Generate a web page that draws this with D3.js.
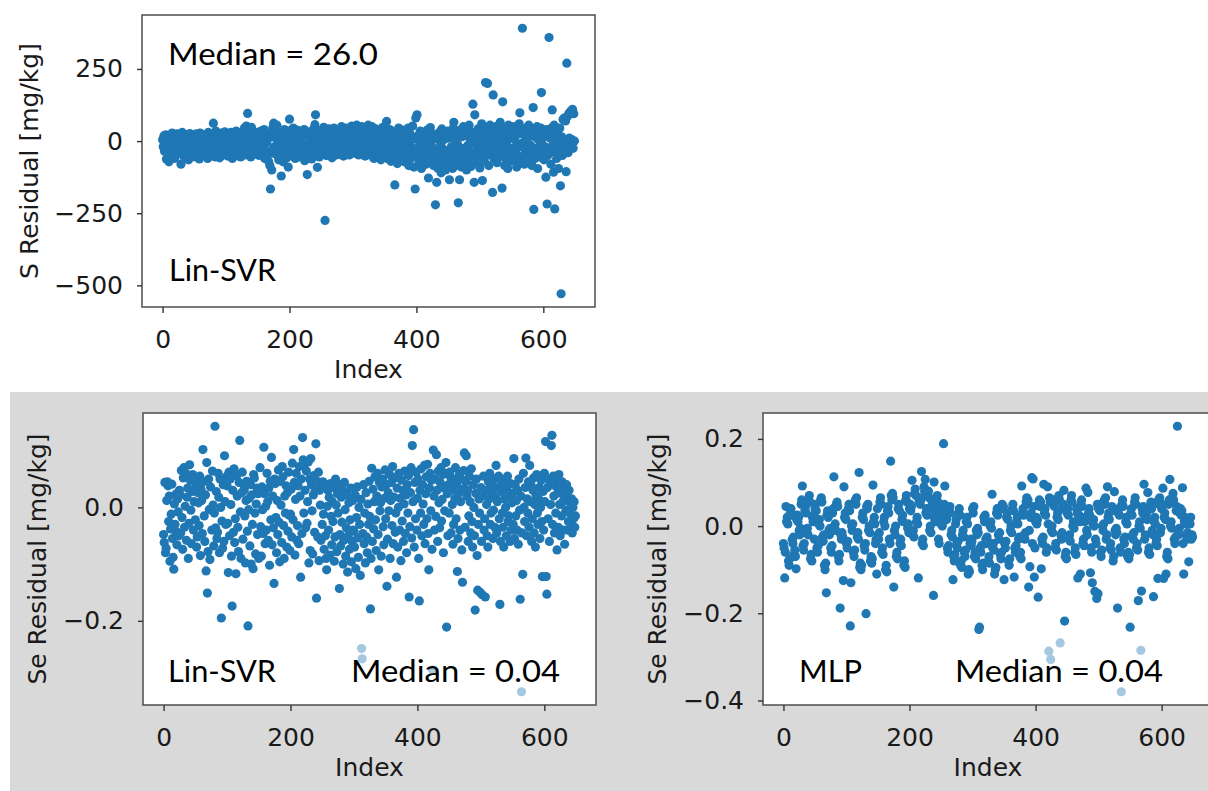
<!DOCTYPE html>
<html>

<head>
  <meta charset="utf-8" />
  <title>Residuals</title>
  <script src="https://d3js.org/d3.v7.min.js"></script>
  <style>
    body { margin: 0; background: #fff; }
  </style>
</head>

<body>
  <script>
    // S residual, Lin-SVR (mg/kg), one value per sample index
    const sResidualLinSVR = [
      5,-20,18,-35,-8,22,-62,-15,10,-45,-72,-28,12,-5,-50,28,-18,-38,8,-60,15,-25,-10,25,-42,
      -12,20,-35,5,-80,-22,30,-48,10,-15,-58,22,-30,2,-40,18,-65,-8,26,-20,-52,12,-3,-33,20,
      -25,8,-55,25,-12,-38,15,-5,-62,28,-20,-42,5,-30,18,-50,-8,22,-35,10,-18,-60,30,-28,0,
      -15,25,-45,8,-30,62,-22,12,-55,35,-10,-40,20,-25,3,-58,15,-35,28,-12,-48,10,-20,32,-5,
      -38,18,-8,-52,25,-28,5,-45,30,-15,-60,12,-32,22,-5,-50,35,-20,8,-42,15,-25,28,-55,-2,
      20,-35,10,-18,45,-48,5,52,-25,96,-10,38,-40,15,-55,48,-20,8,-30,25,-45,12,-8,30,-38,
      -15,22,-50,5,-28,35,-8,-42,18,-22,40,-60,10,-35,-5,28,-48,-70,12,-85,-166,20,-100,-30,48,
      62,-20,15,-45,8,55,-35,25,-65,-10,30,-50,-121,18,-28,-72,5,40,-40,22,-15,-58,12,-90,35,
      76,-25,20,-48,10,-12,45,-35,28,-60,5,-20,38,-42,15,-8,-55,30,-30,12,-45,22,-15,40,-68,
      -20,18,-40,-116,25,-10,-52,32,-28,8,-62,15,-35,42,-5,57,91,-45,20,-91,-18,35,-55,10,-30,
      25,-40,12,-22,48,-8,-275,30,-50,18,-30,5,42,-45,22,-15,38,-58,8,-25,45,-35,15,-5,-48,
      38,-20,10,-45,28,-5,-35,50,-15,20,-52,35,0,-28,45,-40,12,-10,30,-48,22,-25,8,52,-30,
      15,-42,48,-10,28,-30,55,-18,5,-48,38,-25,20,-8,50,-38,12,-15,42,-52,25,-5,32,-28,55,
      -20,35,-48,10,-30,50,-12,22,-60,5,-38,42,-22,15,-55,30,-8,-45,25,-65,12,-28,48,-15,-40,
      20,-50,5,68,-35,28,-62,-10,40,-25,-70,15,-45,32,-18,-55,-152,8,-40,25,-78,-12,45,-30,10,
      -58,22,-20,38,-45,5,-72,30,-15,-50,18,-35,45,-85,-8,25,-60,12,-40,52,-25,-90,8,-166,80,
      -30,91,-55,20,-75,-5,35,-42,-95,15,-20,-65,28,-48,5,-80,-12,38,-58,-128,10,-35,47,-70,-18,
      25,-50,-85,8,-30,-221,-60,-143,15,-95,-40,30,-70,-10,-110,42,-25,-88,5,-55,20,-100,-35,-65,35,
      -45,10,-134,-75,28,-20,-60,-95,45,65,-30,5,-85,-50,25,-12,-214,-70,-134,38,-40,-90,15,-58,50,
      -25,-80,20,-50,-100,35,-15,-65,55,-38,5,-88,30,-55,128,-10,-143,91,-45,15,-75,-30,42,-60,-5,
      -93,25,-40,60,-137,-15,45,-70,10,203,-50,30,200,-25,-85,15,55,-45,-5,35,-178,160,-60,20,-30,
      50,-20,-75,10,40,-55,-10,65,-40,25,-163,136,-30,5,-85,45,-60,20,-15,-95,55,-35,10,-70,30,
      -45,15,-25,50,-65,5,-35,40,-90,-10,25,-55,60,98,-20,-75,35,391,-5,-50,-80,20,-40,45,-60,
      10,-30,55,-70,25,-15,40,-85,-45,116,-237,15,-60,30,-25,50,-95,5,-35,20,-55,45,168,-10,-40,
      35,-65,15,-20,-125,40,-218,-50,25,359,-30,10,-80,45,108,-15,-108,55,-235,-40,20,-60,30,-5,-95,
      -30,45,-155,-529,15,-50,75,-20,80,-5,70,-106,270,85,-40,95,10,100,-15,105,5,110,-25,95,0
    ];

    // Se residual, Lin-SVR (mg/kg)
    const seResidualLinSVR = [
      -0.048,-0.062,0.044,-0.080,-0.072,0.012,0.045,0.038,-0.025,0.020,-0.095,-0.038,-0.012,0.041,-0.055,-0.088,-0.109,0.006,-0.030,-0.042,0.024,-0.066,0.015,-0.008,-0.050,
      0.030,0.022,-0.045,0.065,-0.018,-0.074,0.052,0.070,-0.035,0.002,0.060,-0.058,0.018,0.034,-0.090,-0.028,0.075,0.048,-0.005,-0.064,0.028,0.058,-0.040,0.010,0.046,
      -0.022,0.040,-0.070,-0.052,0.026,0.008,-0.032,0.055,-0.085,0.032,0.012,-0.046,0.102,0.045,-0.015,-0.060,0.022,-0.112,0.079,-0.151,-0.078,0.050,-0.004,-0.092,0.036,
      -0.002,-0.040,0.064,0.004,-0.068,-0.010,0.143,-0.036,0.028,-0.055,-0.044,0.060,0.018,-0.080,0.050,0.000,-0.195,-0.024,-0.072,0.040,-0.060,0.091,0.010,-0.030,0.054,
      0.038,-0.028,-0.115,0.062,-0.050,0.050,0.005,-0.086,-0.174,0.030,-0.044,0.068,-0.062,-0.020,-0.117,0.056,0.020,-0.035,-0.078,0.044,0.118,-0.008,-0.090,0.026,0.062,
      -0.056,0.040,0.030,-0.015,-0.098,0.012,0.046,-0.042,-0.209,-0.004,0.016,-0.068,0.040,-0.100,0.022,-0.030,-0.108,0.058,0.052,-0.010,-0.082,0.006,0.034,-0.048,0.024,
      -0.090,0.030,0.070,-0.034,-0.086,0.036,-0.004,-0.046,0.106,0.024,-0.064,0.002,-0.040,0.060,0.010,-0.058,0.034,-0.102,0.046,-0.022,0.088,-0.066,0.020,-0.036,-0.134,
      0.050,0.042,-0.018,-0.080,0.012,-0.048,0.066,-0.026,-0.096,0.046,0.004,-0.062,0.072,0.054,-0.032,-0.090,0.020,-0.010,0.038,-0.070,0.026,-0.042,0.062,-0.014,-0.076,
      -0.012,0.032,-0.052,0.078,-0.022,0.102,0.044,-0.084,0.014,0.060,-0.058,-0.032,0.038,-0.064,0.072,0.020,-0.123,0.050,-0.046,0.123,0.084,-0.010,0.076,0.030,-0.036,
      0.064,-0.028,0.010,0.080,-0.098,0.050,-0.076,0.086,0.040,-0.006,-0.082,0.022,0.056,-0.044,0.030,0.112,-0.160,0.046,-0.052,0.062,-0.094,0.030,0.004,-0.058,0.040,
      -0.030,0.045,-0.012,-0.074,0.038,-0.050,-0.090,-0.110,0.002,0.030,-0.040,0.018,-0.084,0.042,-0.016,-0.066,0.010,-0.025,0.035,-0.095,-0.052,0.050,0.004,-0.078,0.024,
      -0.010,0.040,-0.143,-0.048,-0.068,0.018,-0.026,0.030,-0.100,-0.058,0.044,-0.004,-0.086,-0.036,0.022,-0.114,-0.050,0.008,-0.074,-0.022,0.034,-0.096,-0.060,0.012,-0.040,
      -0.042,-0.070,0.022,-0.108,-0.018,0.036,-0.054,-0.088,0.000,-0.030,-0.120,0.014,-0.249,-0.267,-0.046,0.040,-0.064,-0.010,-0.098,0.026,-0.052,-0.080,0.006,-0.030,0.046,
      -0.016,-0.179,-0.090,0.069,-0.060,0.032,-0.038,0.010,0.054,-0.022,-0.076,0.020,0.060,-0.048,-0.110,0.044,-0.006,0.008,-0.086,0.036,0.050,-0.034,-0.066,0.016,0.066,
      -0.020,0.040,-0.139,-0.056,0.026,-0.006,0.058,-0.090,0.012,0.044,-0.032,0.072,-0.064,0.018,0.052,-0.044,-0.010,-0.123,0.034,-0.070,0.000,0.060,-0.040,0.016,-0.094,
      0.048,-0.024,0.030,-0.060,0.006,0.064,-0.046,0.022,-0.080,0.040,-0.010,0.056,-0.158,-0.034,0.026,0.070,-0.054,0.109,0.010,0.137,-0.070,0.044,-0.020,0.062,-0.040,
      0.016,0.050,-0.090,-0.165,0.030,-0.010,0.068,-0.050,0.040,0.006,-0.030,0.074,-0.064,0.024,0.054,-0.020,0.076,-0.046,-0.110,0.034,0.060,-0.006,0.048,-0.074,-0.287,
      0.101,0.020,-0.040,0.050,-0.016,0.093,0.030,-0.060,0.064,0.008,-0.036,0.044,0.070,-0.024,0.014,0.058,-0.080,0.034,-0.006,0.060,0.079,-0.211,0.024,-0.050,0.040,
      -0.010,0.062,0.054,-0.045,0.030,0.005,-0.065,-0.030,0.048,0.015,0.070,-0.020,0.040,-0.113,-0.055,0.025,0.058,-0.040,0.010,0.050,-0.075,-0.132,0.032,0.065,0.096,
      -0.035,0.045,0.091,0.020,0.030,-0.060,-0.015,0.055,0.010,-0.045,0.068,-0.025,-0.070,0.040,0.000,-0.050,-0.181,0.025,0.050,-0.085,-0.146,-0.030,0.015,-0.010,-0.150,
      0.035,-0.060,-0.154,0.020,0.055,-0.040,-0.020,-0.158,0.030,0.005,-0.050,-0.070,0.045,0.015,0.060,-0.030,-0.010,0.040,0.025,-0.055,-0.005,0.050,-0.035,0.018,0.074,
      -0.045,0.010,0.035,0.055,-0.020,-0.171,-0.060,0.028,0.045,-0.010,-0.035,-0.070,0.015,0.040,0.000,-0.050,0.030,0.055,-0.025,-0.015,0.020,-0.060,0.042,-0.040,0.008,
      0.025,-0.030,0.086,-0.055,0.040,-0.015,0.012,-0.040,0.030,-0.065,0.050,-0.005,-0.162,0.020,-0.325,-0.045,-0.118,0.060,0.000,-0.025,0.035,0.087,-0.050,0.015,-0.010,
      0.045,-0.035,0.074,0.010,0.040,-0.060,-0.020,0.030,0.052,-0.045,0.005,-0.070,0.020,0.058,-0.010,-0.030,0.015,0.035,-0.055,0.000,0.048,-0.025,-0.122,0.028,-0.040,
      0.060,0.010,0.116,-0.122,-0.153,0.035,-0.020,0.050,-0.060,0.042,0.005,0.109,0.127,-0.030,0.055,0.020,-0.045,0.038,-0.010,0.048,-0.075,0.025,-0.035,0.058,0.005,
      -0.050,0.030,-0.015,0.045,0.010,-0.040,0.022,-0.065,0.035,-0.005,0.040,-0.040,0.018,-0.025,0.030,-0.010,0.008,-0.030,0.015,-0.045,0.000,-0.020,0.010,-0.035,-0.015
    ];

    // Se residual, MLP (mg/kg)
    const seResidualMLP = [
      -0.040,-0.050,-0.119,-0.060,0.045,0.010,0.020,0.005,-0.080,-0.090,-0.075,0.030,0.040,0.025,-0.030,-0.040,-0.025,-0.065,-0.055,-0.070,-0.098,0.015,0.025,0.010,0.020,
      -0.010,-0.020,-0.005,0.050,0.060,0.092,-0.045,-0.055,-0.040,0.035,0.045,0.030,-0.015,-0.005,-0.020,0.060,0.070,0.055,-0.075,-0.065,-0.080,0.020,0.010,0.025,-0.030,
      0.040,0.050,0.035,-0.050,-0.060,-0.045,0.005,0.015,0.000,0.060,0.065,0.055,-0.025,-0.035,-0.020,-0.090,-0.100,-0.085,-0.153,0.025,0.035,0.020,-0.010,-0.020,-0.005,
      -0.050,-0.060,-0.045,0.030,0.040,0.113,-0.005,0.005,-0.010,0.050,0.055,0.045,-0.070,-0.080,-0.065,-0.188,-0.020,-0.030,-0.015,-0.025,-0.125,0.090,0.020,0.030,0.015,
      -0.040,-0.050,-0.035,0.040,0.050,0.035,-0.229,-0.130,0.000,-0.010,0.005,-0.060,-0.070,-0.055,0.060,0.050,0.065,-0.025,-0.015,-0.030,0.123,-0.095,-0.085,-0.100,-0.090,
      0.020,0.030,0.015,-0.045,-0.055,-0.040,-0.201,0.045,0.040,0.050,-0.010,0.000,-0.015,-0.080,-0.070,-0.085,-0.075,0.094,0.010,0.020,0.005,-0.040,-0.030,-0.110,0.040,
      -0.020,-0.030,-0.015,0.055,0.065,0.050,-0.060,-0.050,-0.065,0.010,0.020,0.000,-0.100,-0.090,-0.105,0.035,0.045,0.030,-0.030,-0.040,0.149,0.070,0.060,0.075,0.065,
      -0.140,-0.010,-0.020,0.000,-0.070,-0.060,-0.075,0.040,0.050,0.035,-0.040,-0.030,-0.045,0.015,0.025,0.010,-0.090,-0.080,-0.095,0.060,0.070,0.055,-0.005,0.005,-0.015,
      0.040,0.050,0.035,0.045,0.105,-0.020,-0.010,-0.025,0.075,0.085,0.070,0.010,0.020,0.005,-0.119,0.055,0.065,0.050,0.060,0.125,-0.040,-0.030,-0.045,0.090,0.080,
      0.107,0.030,0.040,0.025,0.070,0.080,0.065,-0.010,0.000,-0.015,0.045,0.055,0.040,-0.159,0.101,0.015,0.025,0.010,0.060,0.070,0.055,-0.030,-0.040,0.030,0.040,
      0.005,0.015,0.000,0.010,0.189,0.050,0.092,0.020,0.030,0.015,-0.050,-0.060,-0.045,0.035,0.045,0.030,-0.020,-0.010,-0.025,-0.123,-0.070,-0.080,-0.065,0.005,0.015,
      -0.040,-0.050,-0.035,0.030,0.040,0.025,-0.090,-0.080,-0.095,-0.020,-0.010,-0.025,-0.060,-0.070,-0.055,0.010,0.020,0.005,-0.110,-0.100,-0.105,-0.040,-0.030,-0.045,-0.035,
      0.040,0.030,0.045,-0.070,-0.060,-0.075,-0.010,-0.020,-0.005,-0.015,-0.237,-0.232,-0.050,-0.060,-0.045,-0.090,-0.100,-0.085,0.020,0.010,0.025,-0.030,-0.040,-0.025,-0.035,
      -0.080,-0.070,-0.085,0.000,0.010,-0.005,0.073,-0.050,-0.040,-0.055,-0.110,-0.100,-0.095,0.030,0.040,0.025,-0.020,-0.030,-0.015,-0.065,-0.075,-0.060,0.050,0.040,0.045,
      -0.123,-0.040,-0.050,-0.035,0.020,0.030,0.015,-0.080,-0.090,-0.075,-0.010,0.000,-0.015,0.040,0.050,0.035,-0.117,-0.050,-0.060,-0.045,0.010,0.020,0.005,-0.030,-0.025,
      -0.070,-0.060,-0.075,0.092,0.030,0.040,0.025,-0.020,-0.030,-0.015,0.055,0.065,0.050,0.060,-0.140,-0.010,-0.093,0.020,0.030,0.111,-0.040,0.108,0.045,-0.117,-0.050,
      0.010,0.020,0.005,0.015,-0.163,0.050,0.060,0.045,0.055,-0.098,-0.030,-0.040,-0.025,0.096,0.030,0.040,0.025,-0.060,-0.050,0.090,0.005,-0.287,0.065,0.055,-0.306,
      -0.010,0.000,-0.015,0.050,0.060,0.045,-0.050,-0.040,-0.055,0.020,0.030,0.015,0.070,0.060,-0.268,-0.020,-0.030,-0.015,0.040,0.050,0.082,-0.218,-0.070,-0.060,-0.075,
      0.030,0.040,0.025,-0.030,-0.020,-0.035,0.060,0.070,0.055,0.000,0.010,-0.005,-0.060,-0.050,-0.065,0.040,0.030,-0.119,0.015,0.025,0.010,-0.110,0.050,0.060,0.045,
      -0.040,-0.030,-0.045,0.010,0.020,0.087,-0.010,-0.020,0.077,0.030,0.040,0.025,-0.107,-0.050,-0.060,-0.130,0.005,0.015,0.000,-0.150,-0.030,-0.040,-0.166,0.050,-0.155,
      0.040,0.050,0.035,-0.060,-0.070,-0.055,0.000,-0.010,0.005,0.060,0.050,0.065,-0.030,-0.020,0.090,0.020,0.030,0.015,-0.050,-0.040,-0.055,0.045,0.035,-0.080,-0.070,
      0.079,-0.010,-0.020,-0.005,-0.015,-0.188,0.030,0.040,0.025,-0.050,-0.060,-0.380,0.050,0.060,0.045,-0.030,-0.040,-0.025,0.010,0.020,0.005,-0.070,-0.060,-0.075,-0.065,
      -0.232,0.030,0.040,0.025,-0.020,-0.030,-0.015,0.055,0.065,0.050,-0.050,-0.040,-0.055,-0.171,0.000,0.010,-0.005,-0.285,-0.149,0.040,0.030,0.045,0.096,-0.030,-0.020,
      0.020,0.030,0.015,0.077,-0.060,-0.050,-0.065,0.045,0.055,0.040,-0.010,-0.020,-0.162,0.010,0.020,0.005,-0.040,-0.030,-0.045,-0.120,0.060,0.050,0.065,-0.015,-0.005,
      0.040,0.050,0.087,-0.120,0.020,0.030,0.015,-0.110,-0.070,-0.060,-0.075,0.050,0.060,0.107,0.000,0.010,-0.005,0.065,0.075,0.060,-0.030,-0.040,-0.025,0.035,0.045,
      0.229,-0.010,-0.020,-0.005,0.030,0.040,0.025,0.035,0.088,-0.040,-0.110,0.010,0.020,0.005,-0.020,-0.030,-0.015,-0.025,-0.082,0.015,0.005,0.020,-0.030,-0.020,-0.025
    ];

    const indexTicks = [0, 200, 400, 600];
    const sTicks = [250, 0, -250, -500];
    const seLinTicks = [0, -0.2];
    const seMlpTicks = [0.2, 0, -0.2, -0.4];

    let width = 1208;
    let height = 791;

    let svg = d3.select("body")
      .append("svg")
      .attr("width", width)
      .attr("height", height);

    // grey backdrop behind the lower two panels
    svg.append("rect")
      .attr("x", 10).attr("y", 392)
      .attr("width", width - 10).attr("height", height - 392)
      .attr("fill", "#d9d9d9");

    // matplotlib-style 5% margin around the data
    function pad(ext) {
      let r = ext[1] - ext[0];
      return [ext[0] - 0.05 * r, ext[1] + 0.05 * r];
    }

    function drawPanel(p, id) {
      let scaleX = d3.scaleLinear()
        .domain(pad([0, p.values.length - 1]))
        .range([p.left, p.right]);
      let scaleY = d3.scaleLinear()
        .domain(pad(d3.extent(p.values)))
        .range([p.bottom, p.top]);

      let g = svg.append("g");

      g.append("clipPath").attr("id", id)
        .append("rect")
        .attr("x", p.left).attr("y", p.top)
        .attr("width", p.right - p.left).attr("height", p.bottom - p.top);

      g.append("rect")
        .attr("x", p.left).attr("y", p.top)
        .attr("width", p.right - p.left).attr("height", p.bottom - p.top)
        .attr("fill", "#fff");

      g.append("g")
        .attr("clip-path", `url(#${id})`)
        .selectAll("circle")
        .data(p.values)
        .enter()
        .append("circle")
        .attr("cx", (d, i) => scaleX(i))
        .attr("cy", d => scaleY(d))
        .attr("r", 4.6)
        .attr("fill", "#1f77b4");

      // semi-transparent box behind the median note
      if (p.box) {
        g.append("rect")
          .attr("x", p.box[0]).attr("y", p.box[1])
          .attr("width", p.box[2]).attr("height", p.box[3])
          .attr("fill", "#fff").attr("opacity", 0.6);
      }

      p.notes.forEach(n => {
        g.append("text")
          .attr("x", n.x).attr("y", n.y)
          .attr("textLength", n.w)
          .attr("lengthAdjust", "spacingAndGlyphs")
          .style("font-family", "Lato, 'Open Sans', sans-serif")
          .style("font-size", "31px")
          .attr("fill", "#000")
          .text(n.text);
      });

      // frame
      g.append("rect")
        .attr("x", p.left).attr("y", p.top)
        .attr("width", p.right - p.left).attr("height", p.bottom - p.top)
        .attr("fill", "none")
        .attr("stroke", "#4d4d4d")
        .attr("stroke-width", 1.5);

      let axisX = g.append("g")
        .attr("transform", `translate(0, ${p.bottom})`)
        .call(d3.axisBottom(scaleX).tickValues(indexTicks).tickSize(6).tickPadding(17).tickFormat(d3.format("d")));
      let axisY = g.append("g")
        .attr("transform", `translate(${p.left}, 0)`)
        .call(d3.axisLeft(scaleY).tickValues(p.yTicks).tickSize(5).tickPadding(14).tickFormat(d3.format(p.yFormat)));

      [axisX, axisY].forEach(a => {
        a.select(".domain").remove();
        a.selectAll("line").attr("stroke", "#333").attr("stroke-width", 1.4);
        a.selectAll("text")
          .style("font-family", "'DejaVu Sans'")
          .style("font-size", "25px")
          .attr("fill", "#1a1a1a");
      });

      g.append("text")
        .attr("x", (p.left + p.right) / 2)
        .attr("y", p.bottom + 71)
        .attr("text-anchor", "middle")
        .style("font-family", "'DejaVu Sans'")
        .style("font-size", "25px")
        .attr("fill", "#1a1a1a")
        .text("Index");

      g.append("text")
        .attr("transform", `translate(${p.yLabelX}, ${(p.top + p.bottom) / 2}) rotate(-90)`)
        .attr("text-anchor", "middle")
        .style("font-family", "'DejaVu Sans'")
        .style("font-size", "25px")
        .attr("fill", "#1a1a1a")
        .text(p.yLabel);
    }

    drawPanel({
      values: sResidualLinSVR,
      left: 142, right: 595, top: 15, bottom: 307,
      yTicks: sTicks, yFormat: "d",
      yLabel: "S Residual [mg/kg]", yLabelX: 38,
      notes: [
        { text: "Median = 26.0", x: 168, y: 65, w: 210 },
        { text: "Lin-SVR", x: 169, y: 281, w: 107 }
      ]
    }, "clipTop");

    drawPanel({
      values: seResidualLinSVR,
      left: 143, right: 596, top: 413, bottom: 705,
      yTicks: seLinTicks, yFormat: ".1f",
      yLabel: "Se Residual [mg/kg]", yLabelX: 46,
      box: [340, 640, 236, 62],
      notes: [
        { text: "Lin-SVR", x: 168, y: 682, w: 108 },
        { text: "Median = 0.04", x: 351, y: 682, w: 209 }
      ]
    }, "clipLin");

    drawPanel({
      values: seResidualMLP,
      left: 763, right: 1213, top: 413, bottom: 705,
      yTicks: seMlpTicks, yFormat: ".1f",
      yLabel: "Se Residual [mg/kg]", yLabelX: 666,
      box: [945, 638, 232, 64],
      notes: [
        { text: "MLP", x: 799, y: 682, w: 63 },
        { text: "Median = 0.04", x: 955, y: 682, w: 208 }
      ]
    }, "clipMlp");
  </script>
</body>

</html>
